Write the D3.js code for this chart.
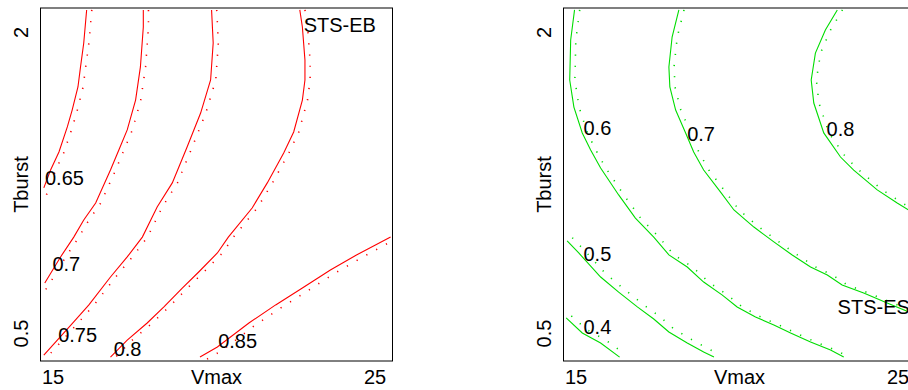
<!DOCTYPE html>
<html><head><meta charset="utf-8">
<script src="https://cdn.jsdelivr.net/npm/d3@7"></script>
<style>
html,body{margin:0;padding:0;background:#fff;}
svg{display:block;font-family:"Liberation Sans",Arial,sans-serif;}
</style></head>
<body>
<svg id="chart" width="908" height="390"></svg>
<script>
// ---- data ----
const xDomain = [14.627, 25.559];   // Vmax
const yDomain = [0.3605, 2.1196];   // Tburst
const xTicks = [15, 25];
const yTicks = [0.5, 2];
const xTitle = "Vmax";
const yTitle = "Tburst";

// STS-EB (red) contours: solid and dotted lines, [Vmax, Tburst]
const ebLevels = [0.65, 0.7, 0.75, 0.8, 0.85];
const ebSolid = [
  [[16.06,2.11],[15.97,1.945],[15.87,1.826],[15.79,1.726],[15.61,1.611],[15.46,1.527],[15.20,1.402],[14.94,1.312],[14.73,1.223]],
  [[17.82,2.11],[17.82,2.025],[17.73,1.826],[17.58,1.661],[17.32,1.512],[17.06,1.412],[16.80,1.312],[16.34,1.148],[15.97,1.063],[15.66,0.978],[15.25,0.879],[14.76,0.749]],
  [[19.94,2.11],[19.99,1.945],[19.91,1.761],[19.60,1.596],[19.18,1.427],[18.72,1.248],[18.25,1.128],[17.79,0.978],[17.32,0.879],[16.80,0.779],[16.13,0.640],[15.66,0.555],[14.73,0.390]],
  [[22.68,2.11],[22.76,2.025],[22.84,1.860],[22.84,1.761],[22.76,1.661],[22.49,1.502],[22.18,1.397],[21.67,1.248],[21.20,1.123],[20.46,0.978],[20.12,0.899],[19.54,0.804],[19.03,0.724],[18.46,0.630],[17.94,0.550],[17.32,0.465],[16.80,0.380]],
  [[19.58,0.380],[20.12,0.430],[21.10,0.550],[21.93,0.640],[22.76,0.724],[23.63,0.814],[24.44,0.889],[25.50,0.978]]
];
const ebDotted = [
  [[16.22,2.11],[16.13,1.945],[16.03,1.826],[15.95,1.726],[15.77,1.611],[15.62,1.527],[15.36,1.402],[15.10,1.312],[14.89,1.223],[14.75,1.16]],
  [[17.98,2.11],[17.98,2.025],[17.89,1.826],[17.74,1.661],[17.48,1.512],[17.22,1.412],[16.96,1.312],[16.50,1.148],[16.13,1.063],[15.82,0.978],[15.41,0.879],[14.92,0.749],[14.72,0.70]],
  [[20.10,2.11],[20.15,1.945],[20.07,1.761],[19.76,1.596],[19.34,1.427],[18.88,1.248],[18.41,1.128],[17.95,0.978],[17.48,0.879],[16.96,0.779],[16.29,0.640],[15.82,0.555],[14.89,0.390]],
  [[22.84,2.11],[22.92,2.025],[23.00,1.860],[23.00,1.761],[22.92,1.661],[22.65,1.502],[22.34,1.397],[21.83,1.248],[21.36,1.123],[20.62,0.978],[20.28,0.899],[19.70,0.804],[19.19,0.724],[18.62,0.630],[18.10,0.550],[17.48,0.465],[16.96,0.380]],
  [[19.80,0.370],[20.28,0.415],[21.26,0.535],[22.09,0.625],[22.92,0.710],[23.79,0.800],[24.60,0.875],[25.50,0.955]]
];
const ebLabelPos = [[15.37,1.272],[15.43,0.846],[15.78,0.490],[17.33,0.423],[20.75,0.460]];
const ebName = "STS-EB";
const ebNamePos = [22.80, 2.037];

// STS-ES (green) contours
const esLevels = [0.4, 0.5, 0.6, 0.7, 0.8];
const esSolid = [
  [[14.71,0.575],[15.21,0.500],[15.78,0.450],[16.37,0.380]],
  [[14.74,0.959],[15.10,0.899],[15.78,0.779],[16.34,0.704],[16.92,0.630],[17.43,0.570],[17.90,0.505],[18.47,0.450],[18.98,0.405],[19.30,0.380]],
  [[14.97,2.11],[14.85,1.960],[14.82,1.761],[14.95,1.626],[15.21,1.497],[15.47,1.412],[15.78,1.322],[16.34,1.188],[16.86,1.073],[17.43,0.978],[17.90,0.889],[18.47,0.829],[18.98,0.754],[19.56,0.689],[20.02,0.630],[20.59,0.580],[21.16,0.540],[21.68,0.500],[22.30,0.455],[22.92,0.415],[23.33,0.380]],
  [[18.21,2.11],[18.00,1.975],[17.90,1.826],[17.93,1.726],[18.11,1.611],[18.42,1.497],[18.67,1.402],[18.98,1.312],[19.50,1.203],[19.92,1.113],[20.54,1.028],[21.16,0.954],[21.73,0.889],[22.30,0.829],[22.82,0.789],[23.28,0.739],[23.95,0.699],[24.68,0.650],[25.35,0.605],[25.56,0.592]],
  [[23.13,2.11],[22.76,2.010],[22.45,1.895],[22.32,1.761],[22.40,1.646],[22.71,1.497],[23.23,1.377],[23.64,1.312],[24.37,1.213],[24.99,1.148],[25.35,1.113],[25.56,1.09]]
];
const esDotted = [
  [[14.87,0.585],[15.37,0.515],[15.94,0.465],[16.53,0.395]],
  [[14.90,0.975],[15.26,0.915],[15.94,0.795],[16.50,0.720],[17.08,0.645],[17.59,0.585],[18.06,0.520],[18.63,0.465],[19.14,0.420],[19.46,0.395]],
  [[15.13,2.11],[15.01,1.960],[14.98,1.761],[15.11,1.626],[15.37,1.497],[15.63,1.412],[15.94,1.322],[16.50,1.188],[17.02,1.073],[17.59,0.978],[18.06,0.889],[18.63,0.829],[19.14,0.754],[19.72,0.689],[20.18,0.630],[20.75,0.580],[21.32,0.540],[21.84,0.500],[22.46,0.455],[23.08,0.415],[23.49,0.380]],
  [[18.37,2.11],[18.16,1.975],[18.06,1.826],[18.09,1.726],[18.27,1.611],[18.58,1.497],[18.83,1.402],[19.14,1.312],[19.66,1.203],[20.08,1.113],[20.70,1.028],[21.32,0.954],[21.89,0.889],[22.46,0.829],[22.98,0.789],[23.44,0.739],[24.11,0.699],[24.84,0.650],[25.51,0.605]],
  [[23.29,2.11],[22.92,2.010],[22.61,1.895],[22.48,1.761],[22.56,1.646],[22.87,1.497],[23.39,1.377],[23.80,1.312],[24.53,1.213],[25.15,1.148],[25.51,1.113]]
];
const esLabelPos = [[15.68,0.530],[15.68,0.896],[15.68,1.524],[18.90,1.494],[23.23,1.519]];
const esName = "STS-ES";
const esNamePos = [23.14, 0.632];

// ---- drawing ----
const svg = d3.select("#chart");
const panels = [
  {id:"eb", left:40.5, color:"#ff0000", levels:ebLevels, solid:ebSolid, dotted:ebDotted, labs:ebLabelPos, name:ebName, namePos:ebNamePos},
  {id:"es", left:563.5, color:"#00dd00", levels:esLevels, solid:esSolid, dotted:esDotted, labs:esLabelPos, name:esName, namePos:esNamePos}
];
const plotW = 352, plotTop = 8, plotBottom = 361;
const fs = 20;

panels.forEach(p => {
  const x = d3.scaleLinear().domain(xDomain).range([p.left, p.left + plotW]);
  const y = d3.scaleLinear().domain(yDomain).range([plotBottom, plotTop]);
  const g = svg.append("g");

  svg.append("clipPath").attr("id", "clip-" + p.id)
    .append("rect").attr("x", p.left).attr("y", plotTop).attr("width", plotW).attr("height", plotBottom - plotTop);

  const line = d3.line().x(d => x(d[0])).y(d => y(d[1])).curve(d3.curveLinear);
  const lines = g.append("g").attr("clip-path", `url(#clip-${p.id})`);

  lines.selectAll("path.dot").data(p.dotted).join("path")
    .attr("class", "dot").attr("d", line).attr("fill", "none")
    .attr("stroke", p.color).attr("stroke-width", 1.6)
    .attr("stroke-dasharray", "1.2,10").attr("stroke-linecap", "butt");
  lines.selectAll("path.sol").data(p.solid).join("path")
    .attr("class", "sol").attr("d", line).attr("fill", "none")
    .attr("stroke", p.color).attr("stroke-width", 1.1);

  // contour labels
  g.selectAll("text.lab").data(p.levels).join("text")
    .attr("class", "lab")
    .attr("x", (d, i) => x(p.labs[i][0]))
    .attr("y", (d, i) => y(p.labs[i][1]))
    .attr("text-anchor", "middle").attr("dy", "0.36em")
    .attr("font-size", fs).attr("fill", "#000")
    .text(d => String(d));

  // panel name
  g.append("text").attr("x", x(p.namePos[0])).attr("y", y(p.namePos[1]))
    .attr("dy", "0.36em").attr("font-size", fs).attr("fill", "#000")
    .text(p.name);

  // box
  g.append("rect").attr("x", p.left).attr("y", plotTop).attr("width", plotW).attr("height", plotBottom - plotTop)
    .attr("fill", "none").attr("stroke", "#000").attr("stroke-width", 1);

  // axes
  const xa = d3.axisBottom(x).tickValues(xTicks).tickSize(0).tickPadding(0).tickFormat(d3.format("d"));
  const xg = g.append("g").attr("transform", `translate(0,${plotBottom})`).call(xa);
  xg.select(".domain").remove();
  xg.selectAll("text").attr("font-size", fs).attr("font-family", null).attr("fill", "#000")
    .attr("dy", null).attr("y", 23);

  const ya = d3.axisLeft(y).tickValues(yTicks).tickSize(0).tickFormat(d => String(d));
  const yg = g.append("g").call(ya);
  yg.select(".domain").remove();
  yg.selectAll(".tick text").attr("font-size", fs).attr("font-family", null).attr("fill", "#000")
    .attr("x", null).attr("dy", null).attr("text-anchor", "middle")
    .attr("transform", `translate(${p.left - 13},0) rotate(-90)`);

  g.append("text").attr("x", x((xDomain[0] + xDomain[1]) / 2)).attr("y", plotBottom + 23)
    .attr("text-anchor", "middle").attr("font-size", fs).attr("fill", "#000").text(xTitle);
  g.append("text").attr("transform", `translate(${p.left - 13},${y((yDomain[0] + yDomain[1]) / 2)}) rotate(-90)`)
    .attr("text-anchor", "middle").attr("font-size", fs).attr("fill", "#000").text(yTitle);
});
</script>
</body></html>
